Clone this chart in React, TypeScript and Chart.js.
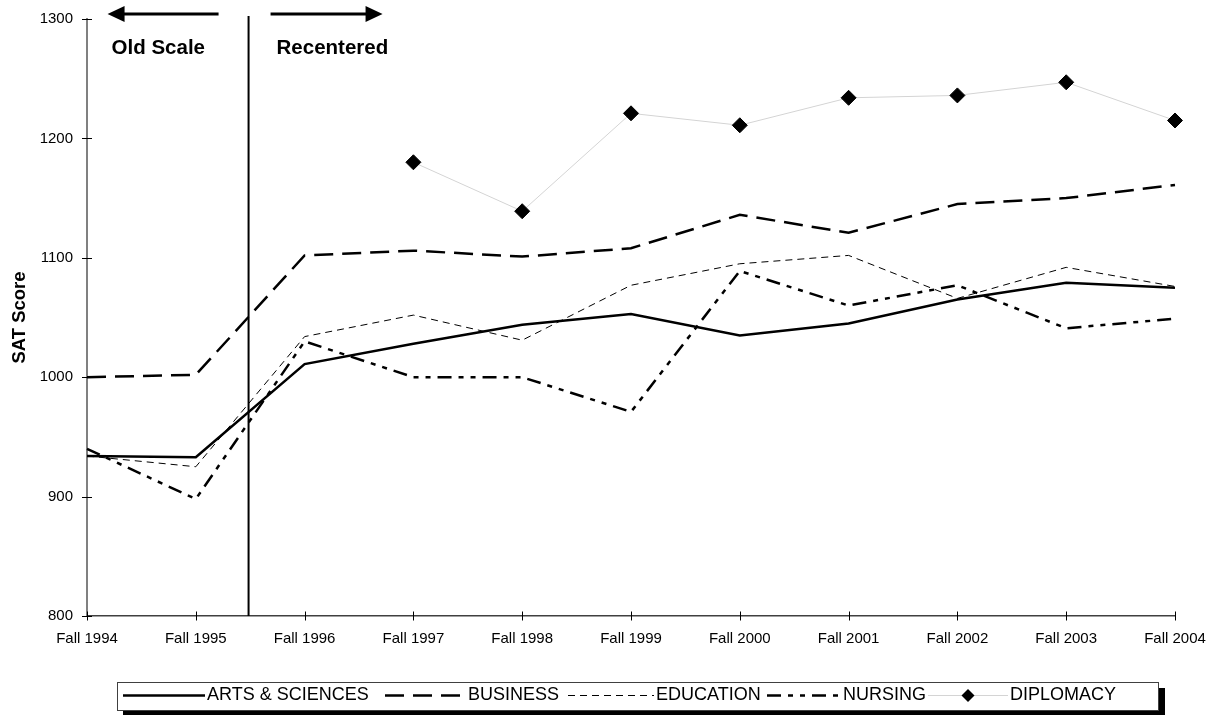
import React, { useEffect, useRef } from 'react';
import { Chart, registerables } from 'chart.js';

Chart.register(...registerables);

const categories = ['Fall 1994', 'Fall 1995', 'Fall 1996', 'Fall 1997', 'Fall 1998', 'Fall 1999', 'Fall 2000', 'Fall 2001', 'Fall 2002', 'Fall 2003', 'Fall 2004'];
const artsSciences = [934, 933, 1011, 1028, 1044, 1053, 1035, 1045, 1065, 1079, 1075];
const business = [1000, 1002, 1102, 1106, 1101, 1108, 1136, 1121, 1145, 1150, 1161];
const education = [934, 925, 1034, 1052, 1031, 1077, 1095, 1102, 1066, 1092, 1076];
const nursing = [940, 898, 1030, 1000, 1000, 971, 1089, 1060, 1077, 1041, 1049];
const diplomacy = [null, null, null, 1180, 1139, 1221, 1211, 1234, 1236, 1247, 1215];
const yTickValues = [800, 900, 1000, 1100, 1200, 1300];
const seriesNames = ['ARTS & SCIENCES', 'BUSINESS', 'EDUCATION', 'NURSING', 'DIPLOMACY'];
const splitPosition = 1.485; // between Fall 1995 and Fall 1996
const leftNote = 'Old Scale';
const rightNote = 'Recentered';
const yTitle = 'SAT Score';

const FONT = "'Liberation Sans', Arial, Helvetica, sans-serif";

function drawArrow(ctx: CanvasRenderingContext2D, tailX: number, tipX: number, y: number) {
  const dir = tipX > tailX ? 1 : -1;
  const headLen = 17;
  const baseX = tipX - dir * headLen;
  ctx.beginPath();
  ctx.lineWidth = 3;
  ctx.strokeStyle = '#000';
  ctx.moveTo(tailX, y);
  ctx.lineTo(baseX + dir * 2, y);
  ctx.stroke();
  ctx.beginPath();
  ctx.fillStyle = '#000';
  ctx.moveTo(tipX, y);
  ctx.lineTo(baseX, y - 8);
  ctx.lineTo(baseX, y + 8);
  ctx.closePath();
  ctx.fill();
}

const legendLayout = [
  { x0: 123, x1: 205, tx: 207 },
  { x0: 385, x1: 463, tx: 468 },
  { x0: 568, x1: 654, tx: 656 },
  { x0: 767, x1: 840, tx: 843 },
  { x0: 928, x1: 1008, tx: 1010 },
];

const decorPlugin = {
  id: 'decor',
  afterDraw(chart: any) {
    const ctx: CanvasRenderingContext2D = chart.ctx;
    const xs = chart.scales.x;
    const ys = chart.scales.y;
    const { left, bottom } = chart.chartArea;
    ctx.save();
    // crossing tick marks
    ctx.strokeStyle = '#000';
    ctx.lineWidth = 1;
    ctx.setLineDash([]);
    ys.ticks.forEach((_t: any, i: number) => {
      const y = Math.round(ys.getPixelForTick(i)) + 0.5;
      ctx.beginPath();
      ctx.moveTo(left - 5, y);
      ctx.lineTo(left + 5, y);
      ctx.stroke();
    });
    xs.ticks.forEach((_t: any, i: number) => {
      const x = Math.round(xs.getPixelForTick(i)) + 0.5;
      ctx.beginPath();
      ctx.moveTo(x, bottom - 4.5);
      ctx.lineTo(x, bottom + 4.5);
      ctx.stroke();
    });
    // separator line
    const sx = xs.getPixelForValue(splitPosition);
    ctx.beginPath();
    ctx.lineWidth = 2;
    ctx.moveTo(sx, 16);
    ctx.lineTo(sx, bottom);
    ctx.stroke();
    // arrows
    drawArrow(ctx, sx - 30, sx - 141, 14);
    drawArrow(ctx, sx + 22, sx + 134, 14);
    // notes
    ctx.font = `bold 20.5px ${FONT}`;
    ctx.fillStyle = '#000';
    ctx.textAlign = 'left';
    ctx.textBaseline = 'alphabetic';
    ctx.fillText(leftNote, sx - 137, 54);
    ctx.fillText(rightNote, sx + 28, 54);

    // legend
    ctx.fillStyle = '#000';
    ctx.fillRect(123, 688, 1042, 28);
    ctx.fillStyle = '#fff';
    ctx.fillRect(117, 682, 1042, 28.5);
    ctx.strokeStyle = '#404040';
    ctx.lineWidth = 1;
    ctx.strokeRect(117.5, 682.5, 1041, 28);
    const ly = 695.5;
    chart.data.datasets.forEach((ds: any, i: number) => {
      const L = legendLayout[i];
      ctx.save();
      ctx.beginPath();
      ctx.strokeStyle = ds.borderColor;
      ctx.lineWidth = ds.borderWidth;
      ctx.setLineDash(ds.borderDash || []);
      ctx.moveTo(L.x0, ly);
      ctx.lineTo(L.x1, ly);
      ctx.stroke();
      ctx.setLineDash([]);
      if (ds.pointRadius > 0) {
        const cx = (L.x0 + L.x1) / 2;
        const r = 6.5;
        ctx.beginPath();
        ctx.fillStyle = '#000';
        ctx.moveTo(cx, ly - r);
        ctx.lineTo(cx + r, ly);
        ctx.lineTo(cx, ly + r);
        ctx.lineTo(cx - r, ly);
        ctx.closePath();
        ctx.fill();
      }
      ctx.font = `18px ${FONT}`;
      ctx.fillStyle = '#000';
      ctx.textAlign = 'left';
      ctx.textBaseline = 'middle';
      ctx.fillText(ds.label, L.tx, ly);
      ctx.restore();
    });
    ctx.restore();
  },
};

export default function App() {
  const canvasRef = useRef<HTMLCanvasElement | null>(null);

  useEffect(() => {
    document.body.style.margin = '0';
    const canvas = canvasRef.current;
    if (!canvas) return;
    const chart = new Chart(canvas, {
      type: 'line',
      data: {
        labels: categories,
        datasets: [
          {
            label: seriesNames[0],
            data: artsSciences,
            borderColor: '#000',
            borderWidth: 2.5,
            pointRadius: 0,
            fill: false,
          },
          {
            label: seriesNames[1],
            data: business,
            borderColor: '#000',
            borderWidth: 2.5,
            borderDash: [19, 9],
            pointRadius: 0,
            fill: false,
          },
          {
            label: seriesNames[2],
            data: education,
            borderColor: '#000',
            borderWidth: 1,
            borderDash: [7, 5],
            pointRadius: 0,
            fill: false,
          },
          {
            label: seriesNames[3],
            data: nursing,
            borderColor: '#000',
            borderWidth: 2.5,
            borderDash: [14, 7, 5, 7, 5, 7],
            pointRadius: 0,
            fill: false,
          },
          {
            label: seriesNames[4],
            data: diplomacy,
            borderColor: '#d4d4d4',
            borderWidth: 1,
            pointStyle: 'rectRot',
            pointRadius: 7.5,
            pointBackgroundColor: '#000',
            pointBorderColor: '#000',
            pointBorderWidth: 1,
            fill: false,
          },
        ] as any,
      },
      options: {
        responsive: false,
        animation: false,
        events: [],
        layout: { padding: { left: 0, right: 37, top: 19, bottom: 59 } },
        elements: { line: { tension: 0 } },
        plugins: {
          legend: { display: false },
          tooltip: { enabled: false },
        },
        scales: {
          x: {
            type: 'category',
            offset: false,
            grid: { display: false, drawTicks: false },
            border: { display: true, color: '#404040', width: 1.5 },
            ticks: {
              color: '#000',
              font: { family: FONT, size: 15 },
              padding: 14,
              maxRotation: 0,
              autoSkip: false,
            },
            afterFit: (s: any) => {
              s.height = 40;
              s.paddingLeft = 0;
              s.paddingRight = 0;
            },
          },
          y: {
            type: 'linear',
            min: yTickValues[0],
            max: yTickValues[yTickValues.length - 1],
            afterBuildTicks: (s: any) => {
              s.ticks = yTickValues.map((v) => ({ value: v }));
            },
            grid: { display: false, drawTicks: false },
            border: { display: true, color: '#808080', width: 2 },
            ticks: {
              color: '#000',
              font: { family: FONT, size: 15 },
              padding: 14,
              callback: (v: any) => String(v),
            },
            title: {
              display: true,
              text: yTitle,
              color: '#000',
              font: { family: FONT, size: 18.5, weight: 'bold' },
              padding: { top: 9, bottom: 0 },
            },
            afterFit: (s: any) => {
              s.width = 87;
              s.paddingTop = 0;
              s.paddingBottom = 0;
            },
          },
        },
      } as any,
      plugins: [decorPlugin],
    });
    return () => chart.destroy();
  }, []);

  return (
    <div style={{ width: 1212, height: 715, position: 'relative', overflow: 'hidden', background: '#fff' }}>
      <canvas ref={canvasRef} width={1212} height={715} style={{ display: 'block', width: 1212, height: 715 }} />
    </div>
  );
}
